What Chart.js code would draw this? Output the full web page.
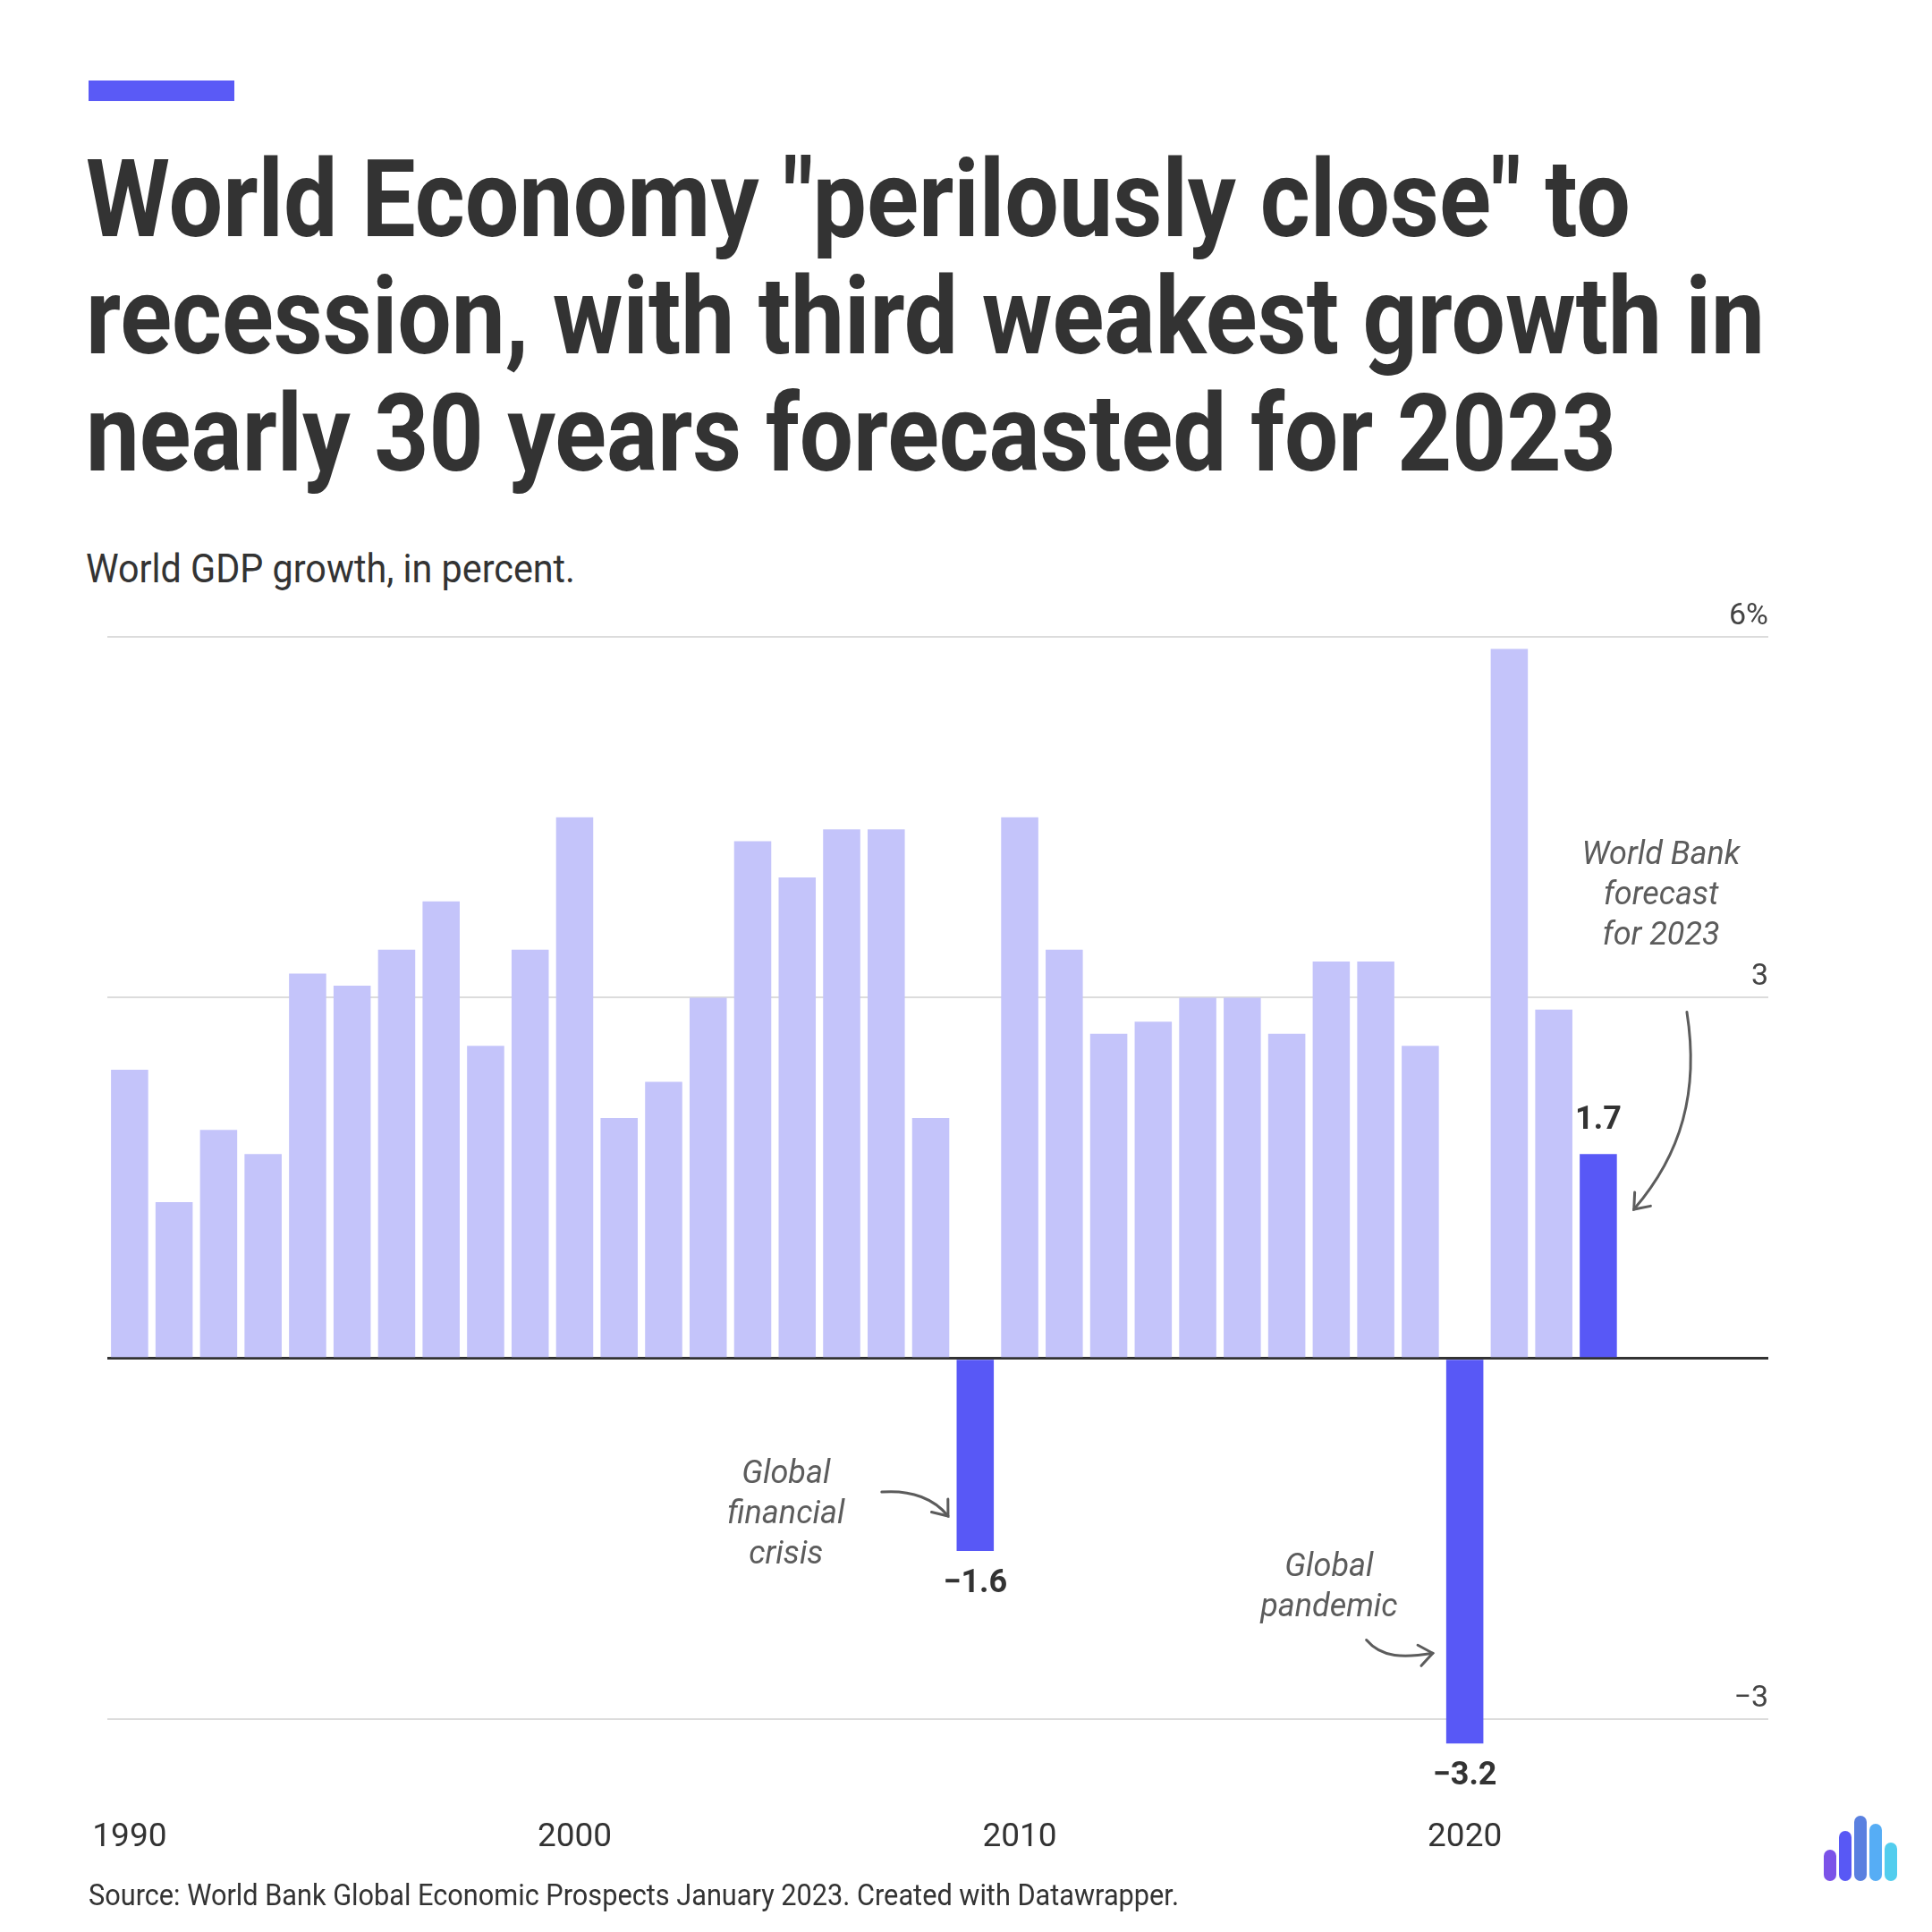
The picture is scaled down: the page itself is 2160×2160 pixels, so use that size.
<!DOCTYPE html>
<html>
<head>
<meta charset="utf-8">
<script src="https://cdn.jsdelivr.net/npm/chart.js@4"></script>
<style>
  html, body { margin: 0; padding: 0; background: #fff; }
  body { width: 2160px; height: 2160px; position: relative; overflow: hidden; font-family: Roboto, sans-serif; color: #333; }
  #chart { position: absolute; left: 0; top: 0; }
  .accent { position: absolute; left: 99px; top: 90px; width: 163px; height: 23px; background: #5a5af6; }
  .title { position: absolute; left: 96px; top: 158px; font-weight: 700; font-size: 120px; line-height: 131px; }
  .title div { height: 131px; }
  .fit { display: inline-block; white-space: nowrap; transform-origin: 0 0; }
  .subtitle { position: absolute; left: 96px; top: 614px; font-size: 44px; line-height: 44px; }
  .source { position: absolute; left: 99px; top: 2102px; font-size: 33px; line-height: 33px; }
  .logo { position: absolute; left: 2039px; top: 2000px; width: 90px; height: 103px; }
  .logo span { position: absolute; bottom: 0; width: 14px; border-radius: 7px; }
</style>
</head>
<body>
<div class="accent"></div>
<div class="title">
  <div><span class="fit" data-w="1727">World Economy "perilously close" to</span></div>
  <div><span class="fit" data-w="1877">recession, with third weakest growth in</span></div>
  <div><span class="fit" data-w="1711">nearly 30 years forecasted for 2023</span></div>
</div>
<div class="subtitle"><span class="fit" data-w="547">World GDP growth, in percent.</span></div>
<canvas id="chart" width="2160" height="2160"></canvas>
<div class="source"><span class="fit" data-w="1219">Source: World Bank Global Economic Prospects January 2023. Created with Datawrapper.</span></div>
<div class="logo">
  <span style="left:0;height:35px;background:#7b52e8"></span>
  <span style="left:17px;height:56px;background:#5858f5"></span>
  <span style="left:34px;height:73px;background:#5a80e0"></span>
  <span style="left:51px;height:64px;background:#56adf5"></span>
  <span style="left:68px;height:43px;background:#52cdee"></span>
</div>
<script>
// data
const years = [1990, 1991, 1992, 1993, 1994, 1995, 1996, 1997, 1998, 1999,
               2000, 2001, 2002, 2003, 2004, 2005, 2006, 2007, 2008, 2009,
               2010, 2011, 2012, 2013, 2014, 2015, 2016, 2017, 2018, 2019,
               2020, 2021, 2022, 2023];
const growth = [2.4, 1.3, 1.9, 1.7, 3.2, 3.1, 3.4, 3.8, 2.6, 3.4,
                4.5, 2.0, 2.3, 3.0, 4.3, 4.0, 4.4, 4.4, 2.0, -1.6,
                4.5, 3.4, 2.7, 2.8, 3.0, 3.0, 2.7, 3.3, 3.3, 2.6,
                -3.2, 5.9, 2.9, 1.7];
const highlightYears = [2009, 2020, 2023];
const xTicks = [1990, 2000, 2010, 2020];
const yTicks = [-3, 0, 3, 6];
const yTickLabels = ['\u22123', '', '3', '6%'];

const LIGHT = '#c4c4fa';
const DARK = '#5858f6';
const NOTE = '#5c5c5c';

// notes, placed in data units (year, value)
const notes = [
  { lines: ['World Bank', 'forecast', 'for 2023'], x: 2024.41, y: 4.18,
    arrow: [[2024.99, 2.88], [2025.27, 2.22], [2024.87, 1.70], [2023.80, 1.24]] },
  { lines: ['Global', 'financial', 'crisis'], x: 2004.75, y: -0.97,
    arrow: [[2006.90, -1.11], [2007.58, -1.09], [2008.09, -1.17], [2008.39, -1.31]] },
  { lines: ['Global', 'pandemic'], x: 2016.95, y: -1.74,
    arrow: [[2017.79, -2.34], [2018.13, -2.49], [2018.64, -2.49], [2019.28, -2.45]] }
];

function fmt(v) {
  return (v < 0 ? '\u2212' : '') + Math.abs(v).toFixed(1);
}

const extras = {
  id: 'extras',
  afterDatasetsDraw(chart) {
    const ctx = chart.ctx;
    const xs = chart.scales.x, ys = chart.scales.y;
    const meta = chart.getDatasetMeta(0);
    ctx.save();
    // value labels for highlighted bars
    ctx.font = 'bold 36px Roboto';
    ctx.fillStyle = '#333';
    ctx.textAlign = 'center';
    ctx.textBaseline = 'middle';
    years.forEach((yr, i) => {
      if (!highlightYears.includes(yr)) return;
      const bar = meta.data[i];
      const off = growth[i] >= 0 ? -37 : 37;
      ctx.fillText(fmt(growth[i]), bar.x, bar.y + off);
    });
    // notes + arrows
    ctx.font = 'italic 36px Roboto';
    ctx.fillStyle = NOTE;
    ctx.strokeStyle = NOTE;
    ctx.lineWidth = 3;
    ctx.lineCap = 'round';
    notes.forEach(n => {
      const cx = xs.getPixelForValue(n.x);
      const cy = ys.getPixelForValue(n.y);
      n.lines.forEach((t, k) => ctx.fillText(t, cx, cy + k * 45));
      const p = n.arrow.map(a => [xs.getPixelForValue(a[0]), ys.getPixelForValue(a[1])]);
      ctx.beginPath();
      ctx.moveTo(p[0][0], p[0][1]);
      ctx.bezierCurveTo(p[1][0], p[1][1], p[2][0], p[2][1], p[3][0], p[3][1]);
      ctx.stroke();
      const ang = Math.atan2(p[2][1] - p[3][1], p[2][0] - p[3][0]);
      const spread = 38 * Math.PI / 180;
      ctx.beginPath();
      ctx.moveTo(p[3][0] + 19 * Math.cos(ang + spread), p[3][1] + 19 * Math.sin(ang + spread));
      ctx.lineTo(p[3][0], p[3][1]);
      ctx.lineTo(p[3][0] + 19 * Math.cos(ang - spread), p[3][1] + 19 * Math.sin(ang - spread));
      ctx.stroke();
    });
    ctx.restore();
  }
};

Chart.defaults.font.family = 'Roboto';

new Chart(document.getElementById('chart'), {
  type: 'bar',
  data: {
    datasets: [{
      data: years.map((yr, i) => ({ x: yr, y: growth[i] })),
      backgroundColor: years.map(yr => highlightYears.includes(yr) ? DARK : LIGHT),
      borderWidth: 0,
      barPercentage: 0.835,
      categoryPercentage: 1
    }]
  },
  options: {
    responsive: false,
    animation: false,
    devicePixelRatio: 1,
    layout: { padding: { left: 120, right: 183, top: 712, bottom: 13 } },
    plugins: { legend: { display: false }, tooltip: { enabled: false } },
    scales: {
      x: {
        type: 'linear',
        min: 1989.5,
        max: 2026.82,
        offset: false,
        afterBuildTicks: s => { s.ticks = xTicks.map(v => ({ value: v })); },
        grid: { display: false, drawTicks: false },
        border: { display: false },
        ticks: {
          padding: 70, color: '#333', maxRotation: 0, autoSkip: false,
          font: { size: 37 },
          callback: v => String(v)
        }
      },
      y: {
        position: 'right',
        min: -3.3,
        max: 6,
        afterBuildTicks: s => { s.ticks = yTicks.map(v => ({ value: v })); },
        grid: {
          drawTicks: false,
          color: c => c.tick && c.tick.value === 0 ? '#333' : '#dcdcdc',
          lineWidth: c => c.tick && c.tick.value === 0 ? 3 : 2
        },
        border: { display: false },
        ticks: {
          mirror: true, padding: 0, labelOffset: -23, color: '#444',
          font: { size: 34 },
          callback: v => yTickLabels[yTicks.indexOf(v)]
        }
      }
    }
  },
  plugins: [extras]
});

// squeeze header text to the condensed widths of the original
function fit() {
  document.querySelectorAll('.fit').forEach(el => {
    el.style.transform = 'none';
    const w = el.getBoundingClientRect().width;
    el.style.transform = 'scaleX(' + (el.dataset.w / w) + ')';
  });
}
fit();
document.fonts.ready.then(fit);
</script>
</body>
</html>
